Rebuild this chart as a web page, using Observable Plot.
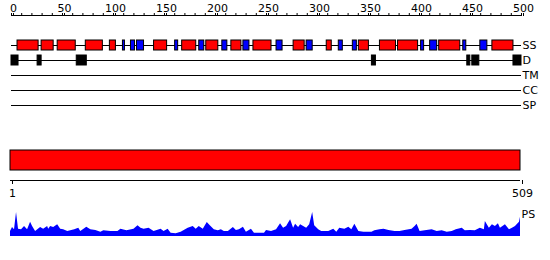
<!DOCTYPE html>
<html><head><meta charset="utf-8">
<script src="https://cdn.jsdelivr.net/npm/d3@7"></script>
<script src="https://cdn.jsdelivr.net/npm/@observablehq/plot@0.6"></script>
<style>
html,body{margin:0;padding:0;background:#fff;}
#chart{position:relative;width:550px;height:260px;overflow:hidden;background:#fff;}
#chart svg{position:absolute;left:0;top:0;}
</style></head><body><div id="chart"></div>
<script>
// ---- data ----
const seqLength = 509;
const rulerMinorTicks = d3.range(0, 501, 10);
const rulerLabels = [0, 50, 100, 150, 200, 250, 300, 350, 400, 450, 500];
const trackNames = ["SS", "D", "TM", "CC", "SP"];
const helixStart = [7, 31, 47, 75, 99, 143, 171, 195, 220, 242, 282, 315, 347, 368, 386, 427, 480];
const helixEnd   = [28, 43, 65, 92, 105, 156, 185, 207, 230, 260, 293, 320, 357, 384, 406, 448, 501];
const strandStart = [112, 120, 126, 164, 188, 211, 232, 265, 295, 327, 341, 409, 418, 451, 468];
const strandEnd   = [114, 124, 133, 167, 193, 216, 238, 271, 301, 331, 345, 412, 425, 454, 475];
const disoStart = [1, 27, 66, 360, 455, 460, 501];
const disoEnd   = [8, 31, 76, 364, 458, 467, 509];
const bottomTicks = [1, 509];
const psPos = [1,3,5,7,9,12,15,18,21,23,26,31,34,38,39,41,44,48,51,54,58,61,65,69,71,77,81,86,91,94,101,108,111,117,124,128,131,134,139,144,151,154,158,161,166,171,178,183,186,189,193,197,200,204,208,211,214,218,223,226,229,233,236,241,244,254,256,261,266,270,273,276,280,283,285,288,290,293,296,299,302,304,308,311,318,323,326,329,334,338,341,344,348,353,361,364,369,373,378,384,389,394,401,404,406,409,414,421,426,431,436,441,445,451,454,459,464,469,473,474,478,481,484,487,489,494,498,501,504,508,509];
const psVal = [0.16,0.32,0.23,0.92,0.25,0.23,0.36,0.23,0.53,0.36,0.16,0.32,0.25,0.36,0.25,0.36,0.32,0.43,0.25,0.23,0.16,0.19,0.23,0.29,0.16,0.33,0.23,0.2,0.13,0.19,0.16,0.16,0.25,0.19,0.25,0.39,0.29,0.25,0.29,0.16,0.25,0.16,0.25,0.09,0.07,0.13,0.29,0.36,0.25,0.36,0.25,0.52,0.39,0.23,0.19,0.23,0.16,0.16,0.32,0.2,0.23,0.33,0.13,0.25,0.09,0.09,0.2,0.16,0.23,0.47,0.29,0.36,0.63,0.29,0.45,0.32,0.43,0.36,0.29,0.43,0.92,0.39,0.23,0.16,0.16,0.25,0.13,0.29,0.25,0.33,0.23,0.45,0.16,0.13,0.13,0.19,0.23,0.25,0.2,0.16,0.16,0.2,0.25,0.36,0.45,0.16,0.19,0.23,0.16,0.19,0.13,0.16,0.23,0.29,0.19,0.2,0.19,0.29,0.23,0.56,0.29,0.43,0.36,0.47,0.29,0.43,0.23,0.29,0.36,0.53,0.73];

// ---- derived tables ----
const tracks = trackNames.map((name, i) => ({name, i}));
const helices = helixStart.map((s, k) => ({start: s, end: helixEnd[k], row: 0}));
const strands = strandStart.map((s, k) => ({start: s, end: strandEnd[k], row: 0}));
const diso = disoStart.map((s, k) => ({start: s, end: disoEnd[k], row: 1}));
const ps = psPos.map((p, k) => ({pos: p, val: psVal[k]}));

const style = {fontFamily: "DejaVu Sans", fontSize: "11px", background: "transparent", overflow: "visible", color: "black"};
const W = 550, H = 260;
const chart = document.getElementById("chart");

// ruler
chart.append(Plot.plot({
  width: W, height: H, style,
  marginLeft: 11, marginRight: 29, marginTop: 15, marginBottom: 244,
  x: {domain: [0, 500]},
  y: {domain: [0, 1], axis: null},
  marks: [
    Plot.ruleY([1], {stroke: "black"}),
    Plot.axisX(rulerMinorTicks, {anchor: "top", tickSize: 3, tickFormat: () => "", label: null}),
    Plot.axisX(rulerLabels, {anchor: "top", tickSize: 3, tickPadding: 1, dx: 2, label: null})
  ]
}));

// tracks
chart.append(Plot.plot({
  width: W, height: H, style,
  marginLeft: 11, marginRight: 29, marginTop: 45, marginBottom: 155,
  x: {domain: [1, seqLength], axis: null},
  y: {domain: [0, trackNames.length - 1], range: [45, 105], axis: null},
  marks: [
    Plot.ruleY(tracks, {y: "i", x1: 1, x2: seqLength, stroke: "black"}),
    Plot.rect(helices, {x1: "start", x2: "end", y1: d => d.row - 0.5, y2: d => d.row + 0.5, insetTop: 2.5, insetBottom: 2.5, fill: "#ff0000", stroke: "black"}),
    Plot.rect(strands, {x1: "start", x2: "end", y1: d => d.row - 0.5, y2: d => d.row + 0.5, insetTop: 2.5, insetBottom: 2.5, fill: "#0000ff", stroke: "black"}),
    Plot.rect(diso, {x1: "start", x2: "end", y1: d => d.row - 0.5, y2: d => d.row + 0.5, insetTop: 2.5, insetBottom: 2.5, fill: "black", stroke: "black"}),
    Plot.text(tracks, {y: "i", text: "name", frameAnchor: "right", textAnchor: "start", dx: 1})
  ]
}));

// red sequence bar
chart.append(Plot.plot({
  width: W, height: H, style,
  marginLeft: 10, marginRight: 30, marginTop: 150, marginBottom: 90,
  x: {domain: [1, seqLength], axis: null},
  marks: [
    Plot.barX([{start: 1, end: seqLength}], {x1: "start", x2: "end", fill: "#ff0000", stroke: "black"})
  ]
}));

// bottom axis
chart.append(Plot.plot({
  width: W, height: H, style,
  marginLeft: 10, marginRight: 30, marginTop: 179, marginBottom: 80,
  x: {domain: [1, seqLength]},
  y: {domain: [0, 1], axis: null},
  marks: [
    Plot.ruleY([0], {stroke: "black"}),
    Plot.axisX(bottomTicks, {anchor: "bottom", tickSize: 4, tickPadding: 5, dx: 2, label: null})
  ]
}));

// PS profile
chart.append(Plot.plot({
  width: W, height: H, style,
  marginLeft: 10, marginRight: 30, marginTop: 210, marginBottom: 25,
  x: {domain: [1, seqLength], axis: null},
  y: {domain: [0, 1], axis: null},
  marks: [
    Plot.areaY(ps, {x: "pos", y: "val", fill: "#0000ff"}),
    Plot.ruleY([0], {stroke: "#0000ff"}),
    Plot.text(["PS"], {frameAnchor: "top-right", textAnchor: "start", dx: 1})
  ]
}));
</script></body></html>
